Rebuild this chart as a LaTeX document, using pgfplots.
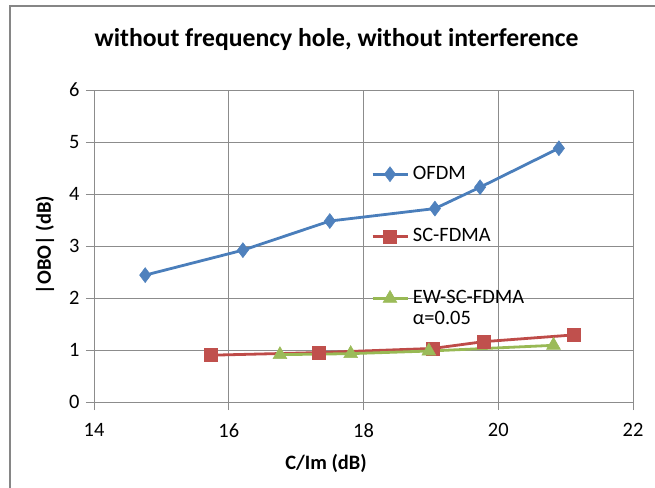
\documentclass[border=0pt]{standalone}
\usepackage{pgfplots}
\pgfplotsset{compat=1.18}
\usepackage{fontspec}
\setmainfont{Carlito}
\definecolor{ofdm}{HTML}{4A7EBB}
\definecolor{ofdmm}{HTML}{4F81BD}
\definecolor{scf}{HTML}{BE4B48}
\definecolor{scfm}{HTML}{C0504D}
\definecolor{ew}{HTML}{98B954}
\definecolor{ewm}{HTML}{9BBB59}
\definecolor{gridc}{HTML}{8C8C8C}
\definecolor{bord}{HTML}{868686}
\begin{document}
\begin{tikzpicture}
\useasboundingbox (-94bp,-86bp) rectangle (561bp,402bp);
\draw[bord, line width=1.5bp] (-84bp,-90bp) -- (-84bp,396bp) -- (565bp,396bp);
\begin{axis}[
  at={(0,0)}, anchor=south west,
  scale only axis, width=539bp, height=312bp,
  xmin=14, xmax=22, ymin=0, ymax=6,
  xtick={14,16,18,20,22}, ytick={0,1,2,3,4,5,6},
  grid=major, major grid style={gridc, line width=0.8bp},
  axis line style={gridc, line width=0.8bp},
  tick style={gridc, line width=0.8bp},
  tick align=outside, major tick length=8bp, tick pos=left,
  /pgf/number format/assume math mode=true,
  ticklabel style={font=\fontsize{20.5}{24}\selectfont},
  yticklabel style={xshift=-3bp},
  xticklabel style={yshift=-10bp},
  title={without frequency hole, without interference},
  title style={font=\fontsize{25.8}{30}\selectfont\bfseries, at={(axis description cs:0.45,1.144)}, anchor=center},
  xlabel={C/Im (dB)},
  xlabel style={font=\fontsize{20.5}{24}\selectfont\bfseries, at={(axis description cs:0.4304,-0.1955)}, anchor=center},
  ylabel={|OBO| (dB)},
  ylabel style={font=\fontsize{20.5}{24}\selectfont\bfseries, at={(axis description cs:-0.0909,0.503)}, anchor=center},
  legend image code/.code={\draw[mark repeat=2,mark phase=2] plot coordinates {(0bp,0bp) (17.5bp,0bp) (35bp,0bp)};},
  legend cell align=left,
  legend style={at={(axis cs:18.11,4.577)}, anchor=north west, draw=none, fill=none, inner sep=0pt, row sep=0.7bp, column sep=4bp, font=\fontsize{20.5}{24}\selectfont, nodes={text height=15bp, text depth=5bp, inner sep=0pt}},
]
\addplot[ofdm, line width=2.8bp, mark=diamond*, mark size=7.5bp, mark options={fill=ofdmm, draw=ofdmm, line width=0.5bp}] coordinates {
(14.76,2.44) (16.21,2.92) (17.50,3.48) (19.06,3.72) (19.73,4.13) (20.90,4.88)};
\addlegendentry{OFDM}
\addlegendimage{empty legend}\addlegendentry{\strut}
\addlegendimage{empty legend}\addlegendentry{\strut}
\addplot[scf, line width=2.8bp, mark=square*, mark size=6.5bp, mark options={fill=scfm, draw=scfm, line width=0.5bp}] coordinates {
(15.73,0.90) (17.33,0.95) (19.03,1.03) (19.78,1.16) (21.12,1.29)};
\addlegendentry{SC-FDMA}
\addlegendimage{empty legend}\addlegendentry{\strut}
\addlegendimage{empty legend}\addlegendentry{\strut}
\addplot[ew, line width=2.8bp, mark=triangle*, mark size=8bp, mark options={fill=ewm, draw=ewm, line width=0.5bp}] coordinates {
(16.76,0.91) (17.81,0.93) (18.97,0.98) (20.82,1.09)};
\addlegendentry{EW-SC-FDMA}
\addlegendimage{empty legend}\addlegendentry{α=0.05}
\end{axis}
\end{tikzpicture}
\end{document}
